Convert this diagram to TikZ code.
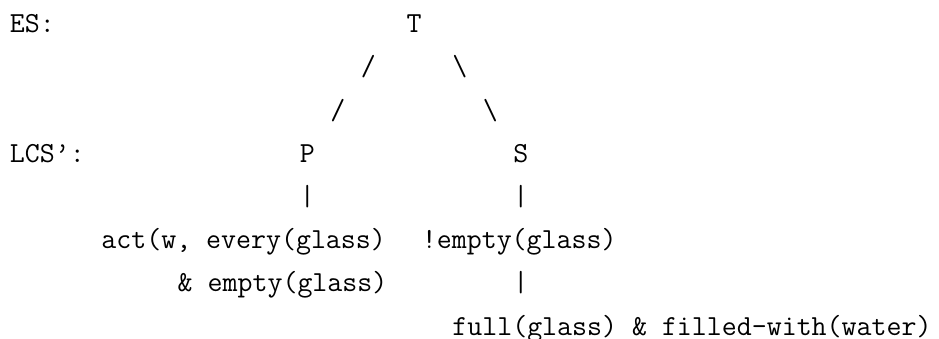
\documentclass[tikz,border=0pt]{standalone}
\begin{document}
\begin{tikzpicture}[x=15.26pt,y=-43.2pt,
  txt/.style={anchor=base west, inner sep=0pt, outer sep=0pt,
    font=\fontsize{29.07}{34}\selectfont\ttfamily\frenchspacing}]
\useasboundingbox (-9.87pt,32.7pt) rectangle (929.13pt,-306.3pt);
% row 0
\node[txt] (es) at (0,0) {ES:};
\node[txt] (t) at (26,0) {T};
% row 1
\node[txt] (l1) at (23,1) {/};
\node[txt] (r1) at (29,1) {\textbackslash};
% row 2
\node[txt] (l2) at (21,2) {/};
\node[txt] (r2) at (31,2) {\textbackslash};
% row 3
\node[txt] (lcs) at (0,3) {LCS’:};
\node[txt] (p) at (19,3) {P};
\node[txt] (s) at (33,3) {S};
% row 4
\node[txt] (bp) at (19,4) {|};
\node[txt] (bs) at (33,4) {|};
% row 5
\node[txt] (act) at (6,5) {act(w, every(glass)};
\node[txt] (nemp) at (27,5) {!empty(glass)};
% row 6
\node[txt] (amp) at (11,6) {\& empty(glass)};
\node[txt] (bs2) at (33,6) {|};
% row 7
\node[txt] (full) at (29,7) {full(glass) \& filled-with(water)};
\end{tikzpicture}
\end{document}
